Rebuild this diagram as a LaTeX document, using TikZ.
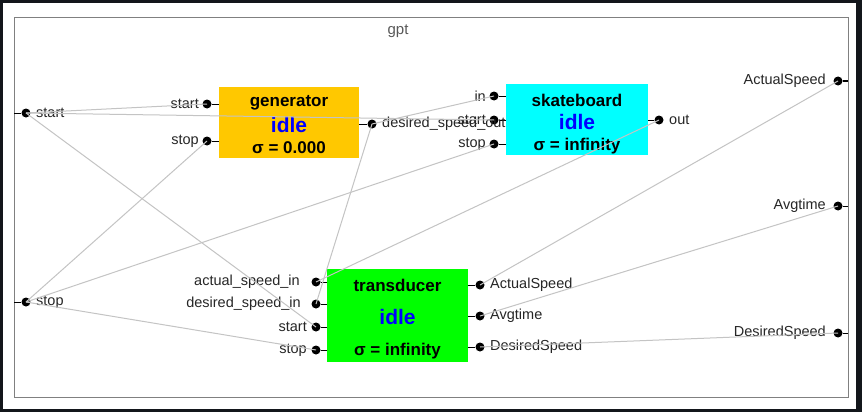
\documentclass[tikz,border=0pt]{standalone}
\usepackage{fontspec}
\setmainfont{Liberation Sans}
\begin{document}
\begin{tikzpicture}[x=1pt,y=-1pt,
  port/.style={circle,fill=black,inner sep=0pt,minimum size=9pt},
  model/.style={draw=none,inner sep=0pt},
  lab/.style={inner sep=0pt,font=\fontsize{14.5}{16}\selectfont,text=black!85},
  ttl/.style={inner sep=0pt,font=\bfseries\fontsize{17}{19}\selectfont},
  st/.style={inner sep=0pt,font=\bfseries\fontsize{21}{23}\selectfont,text=blue},
  sg/.style={inner sep=0pt,font=\bfseries\fontsize{17}{19}\selectfont},
  link/.style={draw=black!23,line width=1pt},
  stub/.style={draw=black,line width=1pt}]
\definecolor{genc}{HTML}{FFC800}
\definecolor{skc}{HTML}{00FFFF}
\definecolor{trc}{HTML}{00FF00}
\definecolor{darkbg}{HTML}{13161B}
\useasboundingbox (0,0) rectangle (862,412);
\fill[darkbg] (0,0) rectangle (862,412);
\fill[white] (3,3) rectangle (856,409);
\draw[black!50,line width=1pt] (14,18) rectangle (848,397);
\node[inner sep=0pt,font=\fontsize{15}{17}\selectfont,text=black!65] (gpt) at (398,31) {gpt};
% boxes
\node[model,fill=genc,minimum width=140pt,minimum height=71pt] (gen) at (289,122.5) {};
\node[model,fill=skc,minimum width=142pt,minimum height=71pt] (sk) at (577,119.5) {};
\node[model,fill=trc,minimum width=141pt,minimum height=93pt] (tr) at (397.5,315.5) {};
\node[ttl] (gent) at (289,103) {generator};
\node[st] (gens) at (289,125) {idle};
\node[sg] (geng) at (289,148) {σ = 0.000};
\node[ttl] (skt) at (577,100) {skateboard};
\node[st] (sks) at (577,122) {idle};
\node[sg] (skg) at (577,146) {σ = infinity};
\node[ttl] (trt) at (397.5,285) {transducer};
\node[st] (trs) at (397.5,317) {idle};
\node[sg] (trg) at (397.5,351) {σ = infinity};
% ports
\node[port] (gstart) at (207,104) {};
\node[port] (gstop) at (207,141) {};
\node[port] (gout) at (372,124) {};
\node[port] (sin) at (494,96) {};
\node[port] (sstart) at (494,120) {};
\node[port] (sstop) at (494,144) {};
\node[port] (sout) at (659,120) {};
\node[port] (tasi) at (316,282) {};
\node[port] (tdsi) at (316,304) {};
\node[port] (tstart) at (316,327) {};
\node[port] (tstop) at (316,350) {};
\node[port] (tas) at (480,285) {};
\node[port] (tavg) at (480,316) {};
\node[port] (tds) at (480,347) {};
\node[port] (ostart) at (26,113) {};
\node[port] (ostop) at (26,302) {};
\node[port] (oas) at (838,81) {};
\node[port] (oavg) at (838,206) {};
\node[port] (ods) at (838,333) {};
% stubs
\draw[stub] (gstart) -- (gstart -| gen.west);
\draw[stub] (gstop) -- (gstop -| gen.west);
\draw[stub] (gout) -- (gout -| gen.east);
\draw[stub] (sin) -- (sin -| sk.west);
\draw[stub] (sstart) -- (sstart -| sk.west);
\draw[stub] (sstop) -- (sstop -| sk.west);
\draw[stub] (sout) -- (sout -| sk.east);
\draw[stub] (tasi) -- (tasi -| tr.west);
\draw[stub] (tdsi) -- (tdsi -| tr.west);
\draw[stub] (tstart) -- (tstart -| tr.west);
\draw[stub] (tstop) -- (tstop -| tr.west);
\draw[stub] (tas) -- (tas -| tr.east);
\draw[stub] (tavg) -- (tavg -| tr.east);
\draw[stub] (tds) -- (tds -| tr.east);
\coordinate (lb1) at (14,113);
\coordinate (lb2) at (14,302);
\coordinate (rb1) at (848,81);
\coordinate (rb2) at (848,206);
\coordinate (rb3) at (848,333);
\draw[stub] (ostart) -- (lb1);
\draw[stub] (ostop) -- (lb2);
\draw[stub] (oas) -- (rb1);
\draw[stub] (oavg) -- (rb2);
\draw[stub] (ods) -- (rb3);
% labels
\node[lab,anchor=east] at ([xshift=-8pt]gstart.center) {start};
\node[lab,anchor=east] at ([xshift=-8pt]gstop.center) {stop};
\node[lab,anchor=west] at ([xshift=10pt]gout.center) {desired\_speed\_out};
\node[lab,anchor=east] at ([xshift=-8pt]sin.center) {in};
\node[lab,anchor=east] at ([xshift=-8pt]sstart.center) {start};
\node[lab,anchor=east] at ([xshift=-8pt]sstop.center) {stop};
\node[lab,anchor=west] at ([xshift=10pt]sout.center) {out};
\node[lab,anchor=east] at ([xshift=-16pt]tasi.center) {actual\_speed\_in};
\node[lab,anchor=east] at ([xshift=-15pt]tdsi.center) {desired\_speed\_in};
\node[lab,anchor=east] at ([xshift=-9pt]tstart.center) {start};
\node[lab,anchor=east] at ([xshift=-9pt]tstop.center) {stop};
\node[lab,anchor=west] at ([xshift=10pt]tas.center) {ActualSpeed};
\node[lab,anchor=west] at ([xshift=10pt]tavg.center) {Avgtime};
\node[lab,anchor=west] at ([xshift=10pt]tds.center) {DesiredSpeed};
\node[lab,anchor=west] at ([xshift=10pt]ostart.center) {start};
\node[lab,anchor=west] at ([xshift=10pt]ostop.center) {stop};
\node[lab,anchor=east] at ([xshift=-12pt]oas.center) {ActualSpeed};
\node[lab,anchor=east] at ([xshift=-12pt]oavg.center) {Avgtime};
\node[lab,anchor=east] at ([xshift=-12pt]ods.center) {DesiredSpeed};
% couplings
\draw[link] (ostart.center) -- (gstart.center);
\draw[link] (ostart.center) -- (sstart.center);
\draw[link] (ostart.center) -- (tstart.center);
\draw[link] (ostop.center) -- (gstop.center);
\draw[link] (ostop.center) -- (sstop.center);
\draw[link] (ostop.center) -- (tstop.center);
\draw[link] (gout.center) -- (sin.center);
\draw[link] (gout.center) -- (tdsi.center);
\draw[link] (sout.center) -- (tasi.center);
\draw[link] (tas.center) -- (oas.center);
\draw[link] (tavg.center) -- (oavg.center);
\draw[link] (tds.center) -- (ods.center);
\end{tikzpicture}
\end{document}
